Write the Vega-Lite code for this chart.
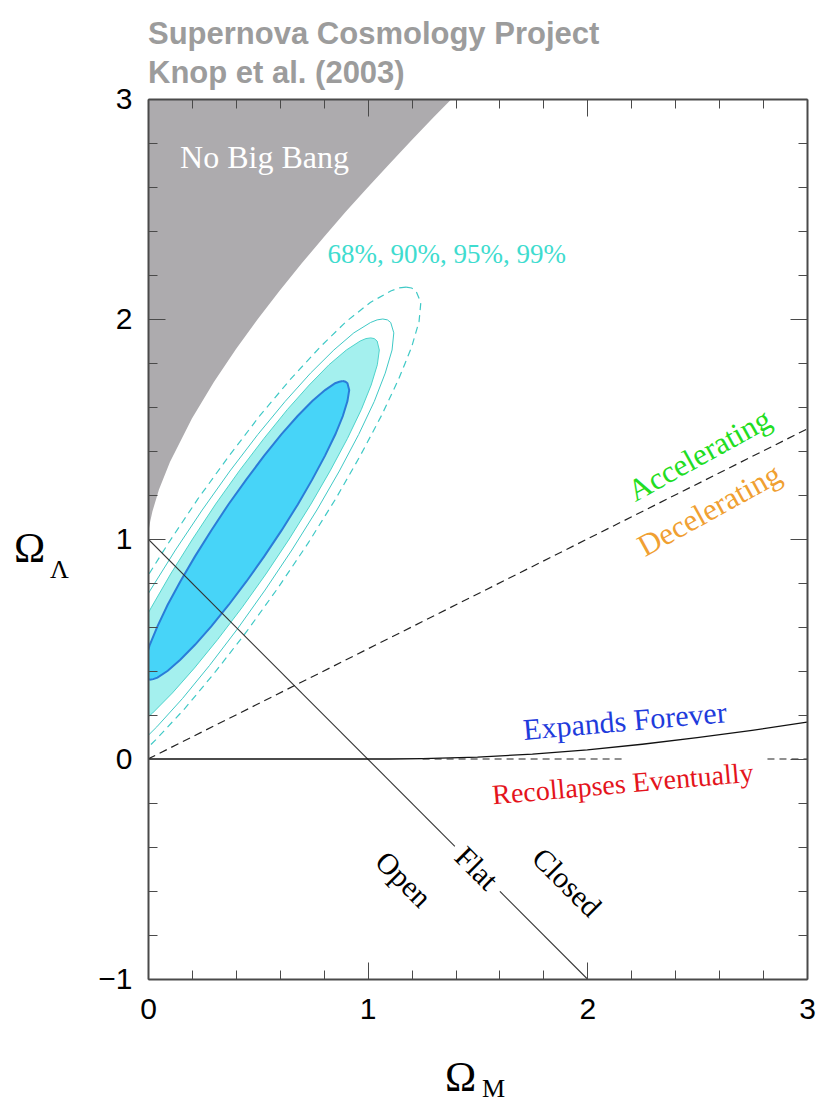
{
  "$schema": "https://vega.github.io/schema/vega-lite/v6.json",
  "width": 659,
  "height": 880,
  "autosize": {"type": "none"},
  "padding": {"left": 148, "top": 99, "right": 10, "bottom": 122},
  "background": "white",
  "title": {
    "text": ["Supernova Cosmology Project", "Knop et al. (2003)"],
    "anchor": "start",
    "frame": "group",
    "font": "Liberation Sans",
    "fontSize": 31,
    "fontWeight": "bold",
    "color": "#9c9c9c",
    "lineHeight": 39,
    "offset": -6
  },
  "config": {
    "view": {"stroke": null},
    "axis": {"grid": false, "labelFlush": false, "labelOverlap": false, "domain": false}
  },
  "resolve": {"axis": {"x": "independent", "y": "independent"}},
  "datasets": {
    "nobb": [
      {"om": 0, "ol": 1}, {"om": 0.001, "ol": 1.018}, {"om": 0.002, "ol": 1.028}, {"om": 0.005, "ol": 1.051},
      {"om": 0.01, "ol": 1.08}, {"om": 0.02, "ol": 1.125}, {"om": 0.05, "ol": 1.225}, {"om": 0.1, "ol": 1.35},
      {"om": 0.2, "ol": 1.548}, {"om": 0.3, "ol": 1.714}, {"om": 0.4, "ol": 1.862}, {"om": 0.5, "ol": 2.0},
      {"om": 0.6, "ol": 2.13}, {"om": 0.7, "ol": 2.253}, {"om": 0.8, "ol": 2.372}, {"om": 0.9, "ol": 2.487},
      {"om": 1.0, "ol": 2.598}, {"om": 1.1, "ol": 2.706}, {"om": 1.2, "ol": 2.813}, {"om": 1.3, "ol": 2.917},
      {"om": 1.382, "ol": 3.0}
    ],
    "contours": [
      {"c": "68", "k": 0, "y": 1.718, "xl": 0.887, "xr": 0.887},
      {"c": "68", "k": 1, "y": 1.715, "xl": 0.871, "xr": 0.899},
      {"c": "68", "k": 2, "y": 1.708, "xl": 0.852, "xr": 0.908},
      {"c": "68", "k": 3, "y": 1.677, "xl": 0.806, "xr": 0.916},
      {"c": "68", "k": 4, "y": 1.627, "xl": 0.748, "xr": 0.908},
      {"c": "68", "k": 5, "y": 1.559, "xl": 0.681, "xr": 0.887},
      {"c": "68", "k": 6, "y": 1.476, "xl": 0.607, "xr": 0.853},
      {"c": "68", "k": 7, "y": 1.379, "xl": 0.529, "xr": 0.806},
      {"c": "68", "k": 8, "y": 1.271, "xl": 0.448, "xr": 0.748},
      {"c": "68", "k": 9, "y": 1.157, "xl": 0.366, "xr": 0.682},
      {"c": "68", "k": 10, "y": 1.039, "xl": 0.288, "xr": 0.608},
      {"c": "68", "k": 11, "y": 0.921, "xl": 0.214, "xr": 0.529},
      {"c": "68", "k": 12, "y": 0.807, "xl": 0.147, "xr": 0.448},
      {"c": "68", "k": 13, "y": 0.700, "xl": 0.089, "xr": 0.367},
      {"c": "68", "k": 14, "y": 0.603, "xl": 0.043, "xr": 0.288},
      {"c": "68", "k": 15, "y": 0.519, "xl": 0.008, "xr": 0.214},
      {"c": "68", "k": 16, "y": 0.451, "xl": -0.013, "xr": 0.147},
      {"c": "68", "k": 17, "y": 0.401, "xl": -0.020, "xr": 0.090},
      {"c": "68", "k": 18, "y": 0.370, "xl": -0.013, "xr": 0.043},
      {"c": "68", "k": 19, "y": 0.363, "xl": -0.004, "xr": 0.024},
      {"c": "68", "k": 20, "y": 0.360, "xl": 0.008, "xr": 0.008},
      {"c": "90", "k": 0, "y": 1.914, "xl": 1.014, "xr": 1.014},
      {"c": "90", "k": 1, "y": 1.911, "xl": 0.992, "xr": 1.030},
      {"c": "90", "k": 2, "y": 1.900, "xl": 0.966, "xr": 1.043},
      {"c": "90", "k": 3, "y": 1.859, "xl": 0.903, "xr": 1.053},
      {"c": "90", "k": 4, "y": 1.792, "xl": 0.824, "xr": 1.044},
      {"c": "90", "k": 5, "y": 1.700, "xl": 0.734, "xr": 1.016},
      {"c": "90", "k": 6, "y": 1.588, "xl": 0.634, "xr": 0.971},
      {"c": "90", "k": 7, "y": 1.457, "xl": 0.528, "xr": 0.908},
      {"c": "90", "k": 8, "y": 1.313, "xl": 0.418, "xr": 0.831},
      {"c": "90", "k": 9, "y": 1.159, "xl": 0.308, "xr": 0.742},
      {"c": "90", "k": 10, "y": 1.000, "xl": 0.203, "xr": 0.643},
      {"c": "90", "k": 11, "y": 0.841, "xl": 0.103, "xr": 0.537},
      {"c": "90", "k": 12, "y": 0.687, "xl": 0.014, "xr": 0.427},
      {"c": "90", "k": 13, "y": 0.543, "xl": -0.064, "xr": 0.317},
      {"c": "90", "k": 14, "y": 0.413, "xl": -0.126, "xr": 0.211},
      {"c": "90", "k": 15, "y": 0.300, "xl": -0.172, "xr": 0.111},
      {"c": "90", "k": 16, "y": 0.209, "xl": -0.199, "xr": 0.021},
      {"c": "90", "k": 17, "y": 0.141, "xl": -0.208, "xr": -0.058},
      {"c": "90", "k": 18, "y": 0.100, "xl": -0.198, "xr": -0.121},
      {"c": "90", "k": 19, "y": 0.090, "xl": -0.186, "xr": -0.147},
      {"c": "90", "k": 20, "y": 0.086, "xl": -0.169, "xr": -0.169},
      {"c": "95", "k": 0, "y": 2.000, "xl": 1.069, "xr": 1.069},
      {"c": "95", "k": 1, "y": 1.996, "xl": 1.043, "xr": 1.090},
      {"c": "95", "k": 2, "y": 1.984, "xl": 1.013, "xr": 1.105},
      {"c": "95", "k": 3, "y": 1.937, "xl": 0.937, "xr": 1.119},
      {"c": "95", "k": 4, "y": 1.859, "xl": 0.846, "xr": 1.111},
      {"c": "95", "k": 5, "y": 1.754, "xl": 0.740, "xr": 1.080},
      {"c": "95", "k": 6, "y": 1.625, "xl": 0.624, "xr": 1.030},
      {"c": "95", "k": 7, "y": 1.475, "xl": 0.500, "xr": 0.959},
      {"c": "95", "k": 8, "y": 1.309, "xl": 0.373, "xr": 0.871},
      {"c": "95", "k": 9, "y": 1.132, "xl": 0.247, "xr": 0.769},
      {"c": "95", "k": 10, "y": 0.950, "xl": 0.125, "xr": 0.655},
      {"c": "95", "k": 11, "y": 0.768, "xl": 0.011, "xr": 0.533},
      {"c": "95", "k": 12, "y": 0.591, "xl": -0.091, "xr": 0.407},
      {"c": "95", "k": 13, "y": 0.425, "xl": -0.179, "xr": 0.280},
      {"c": "95", "k": 14, "y": 0.275, "xl": -0.250, "xr": 0.157},
      {"c": "95", "k": 15, "y": 0.146, "xl": -0.300, "xr": 0.040},
      {"c": "95", "k": 16, "y": 0.041, "xl": -0.331, "xr": -0.066},
      {"c": "95", "k": 17, "y": -0.037, "xl": -0.339, "xr": -0.157},
      {"c": "95", "k": 18, "y": -0.084, "xl": -0.325, "xr": -0.233},
      {"c": "95", "k": 19, "y": -0.096, "xl": -0.310, "xr": -0.263},
      {"c": "95", "k": 20, "y": -0.100, "xl": -0.289, "xr": -0.289},
      {"c": "99", "k": 0, "y": 2.145, "xl": 1.175, "xr": 1.175},
      {"c": "99", "k": 1, "y": 2.141, "xl": 1.143, "xr": 1.200},
      {"c": "99", "k": 2, "y": 2.127, "xl": 1.105, "xr": 1.220},
      {"c": "99", "k": 3, "y": 2.075, "xl": 1.012, "xr": 1.242},
      {"c": "99", "k": 4, "y": 1.989, "xl": 0.903, "xr": 1.234},
      {"c": "99", "k": 5, "y": 1.872, "xl": 0.783, "xr": 1.200},
      {"c": "99", "k": 6, "y": 1.729, "xl": 0.651, "xr": 1.142},
      {"c": "99", "k": 7, "y": 1.563, "xl": 0.511, "xr": 1.064},
      {"c": "99", "k": 8, "y": 1.378, "xl": 0.369, "xr": 0.966},
      {"c": "99", "k": 9, "y": 1.182, "xl": 0.227, "xr": 0.854},
      {"c": "99", "k": 10, "y": 0.980, "xl": 0.092, "xr": 0.728},
      {"c": "99", "k": 11, "y": 0.778, "xl": -0.035, "xr": 0.592},
      {"c": "99", "k": 12, "y": 0.582, "xl": -0.147, "xr": 0.451},
      {"c": "99", "k": 13, "y": 0.398, "xl": -0.243, "xr": 0.308},
      {"c": "99", "k": 14, "y": 0.231, "xl": -0.319, "xr": 0.169},
      {"c": "99", "k": 15, "y": 0.088, "xl": -0.372, "xr": 0.036},
      {"c": "99", "k": 16, "y": -0.029, "xl": -0.402, "xr": -0.084},
      {"c": "99", "k": 17, "y": -0.115, "xl": -0.408, "xr": -0.190},
      {"c": "99", "k": 18, "y": -0.167, "xl": -0.388, "xr": -0.278},
      {"c": "99", "k": 19, "y": -0.181, "xl": -0.369, "xr": -0.314},
      {"c": "99", "k": 20, "y": -0.185, "xl": -0.344, "xr": -0.344}
    ],
    "flat": [
      {"s": "a", "x": 0, "y": 1}, {"s": "a", "x": 1.397, "y": -0.397},
      {"s": "b", "x": 1.602, "y": -0.602}, {"s": "b", "x": 2, "y": -1}
    ],
    "accel": [{"x": 0, "y": 0}, {"x": 3, "y": 1.5}],
    "expand": [
      {"x": 0, "y": 0}, {"x": 1, "y": 0}, {"x": 1.1, "y": 0.0001}, {"x": 1.25, "y": 0.0015},
      {"x": 1.5, "y": 0.0085}, {"x": 1.75, "y": 0.0224}, {"x": 2, "y": 0.0419}, {"x": 2.25, "y": 0.0671},
      {"x": 2.5, "y": 0.0967}, {"x": 2.75, "y": 0.1301}, {"x": 3, "y": 0.1675}
    ],
    "recoll": [
      {"s": "a", "x": 1.25, "y": 0}, {"s": "a", "x": 2.17, "y": 0},
      {"s": "b", "x": 2.82, "y": 0}, {"s": "b", "x": 3, "y": 0}
    ]
  },
  "layer": [
    {
      "data": {"name": "nobb"},
      "mark": {"type": "area", "color": "#adabae", "clip": true},
      "encoding": {
        "x": {"field": "om", "type": "quantitative", "scale": {"domain": [0, 3], "nice": false, "zero": false},
          "axis": {"orient": "bottom", "values": [0, 1, 2, 3], "ticks": false, "domain": false, "labelFont": "Liberation Sans", "labelFontSize": 30, "labelColor": "black", "labelPadding": 15,
            "title": "Ω", "titleFont": "Liberation Serif", "titleFontSize": 42, "titleFontWeight": "normal", "titleColor": "black", "titleX": 312, "titleY": 111, "titleAlign": "center", "titleBaseline": "alphabetic"}},
        "y": {"field": "ol", "type": "quantitative", "scale": {"domain": [-1, 3], "nice": false, "zero": false},
          "axis": {"orient": "left", "values": [-1, 0, 1, 2, 3], "ticks": false, "domain": false, "labelFont": "Liberation Sans", "labelFontSize": 30, "labelColor": "black", "labelPadding": 16,
            "title": "Ω", "titleFont": "Liberation Serif", "titleFontSize": 42, "titleFontWeight": "normal", "titleColor": "black", "titleAngle": 0, "titleX": -119, "titleY": 462, "titleAlign": "center", "titleBaseline": "alphabetic"}},
        "y2": {"datum": 3}
      }
    },
    {
      "data": {"name": "contours"},
      "transform": [{"filter": {"field": "c", "equal": "90"}}],
      "mark": {"type": "area", "orient": "horizontal", "color": "#a4f0ee", "clip": true},
      "encoding": {
        "y": {"field": "y", "type": "quantitative", "scale": {"domain": [-1, 3], "nice": false, "zero": false},
          "axis": {"orient": "left", "values": [-1, 0, 1, 2, 3], "labels": false, "ticks": true, "tickSize": -17, "tickColor": "#4a4a4a", "tickWidth": 1, "domain": true, "domainColor": "#4a4a4a", "domainWidth": 2, "zindex": 1,
            "title": "Λ", "titleFont": "Liberation Serif", "titleFontSize": 26, "titleFontWeight": "normal", "titleColor": "black", "titleAngle": 0, "titleX": -89, "titleY": 478, "titleAlign": "center", "titleBaseline": "alphabetic"}},
        "x": {"field": "xl", "type": "quantitative", "scale": {"domain": [0, 3], "nice": false, "zero": false},
          "axis": {"orient": "bottom", "values": [0, 1, 2, 3], "labels": false, "ticks": true, "tickSize": -17, "tickColor": "#4a4a4a", "tickWidth": 1, "domain": true, "domainColor": "#4a4a4a", "domainWidth": 2, "zindex": 1,
            "title": "M", "titleFont": "Liberation Serif", "titleFontSize": 26, "titleFontWeight": "normal", "titleColor": "black", "titleX": 345, "titleY": 117, "titleAlign": "center", "titleBaseline": "alphabetic"}},
        "x2": {"field": "xr"}
      }
    },
    {
      "data": {"name": "contours"},
      "transform": [{"filter": {"field": "c", "equal": "68"}}],
      "mark": {"type": "area", "orient": "horizontal", "color": "#47d4f8", "clip": true},
      "encoding": {
        "y": {"field": "y", "type": "quantitative", "scale": {"domain": [-1, 3], "nice": false, "zero": false},
          "axis": {"orient": "left", "values": [-0.8, -0.6, -0.4, -0.2, 0.2, 0.4, 0.6, 0.8, 1.2, 1.4, 1.6, 1.8, 2.2, 2.4, 2.6, 2.8], "labels": false, "ticks": true, "tickSize": -9, "tickColor": "#4a4a4a", "tickWidth": 1, "domain": false, "zindex": 1, "title": null}},
        "x": {"field": "xl", "type": "quantitative", "scale": {"domain": [0, 3], "nice": false, "zero": false},
          "axis": {"orient": "bottom", "values": [0.2, 0.4, 0.6, 0.8, 1.2, 1.4, 1.6, 1.8, 2.2, 2.4, 2.6, 2.8], "labels": false, "ticks": true, "tickSize": -9, "tickColor": "#4a4a4a", "tickWidth": 1, "domain": false, "zindex": 1, "title": null}},
        "x2": {"field": "xr"}
      }
    },
    {
      "data": {"name": "contours"},
      "transform": [{"filter": {"field": "c", "equal": "90"}}, {"fold": ["xl", "xr"], "as": ["side", "xv"]}],
      "mark": {"type": "line", "stroke": "#4fd3cb", "strokeWidth": 1, "clip": true},
      "encoding": {
        "x": {"field": "xv", "type": "quantitative", "scale": {"domain": [0, 3], "nice": false, "zero": false},
          "axis": {"orient": "top", "values": [0, 1, 2, 3], "labels": false, "ticks": true, "tickSize": -17, "tickColor": "#4a4a4a", "tickWidth": 1, "domain": true, "domainColor": "#4a4a4a", "domainWidth": 2, "zindex": 1, "title": null}},
        "y": {"field": "y", "type": "quantitative", "scale": {"domain": [-1, 3], "nice": false, "zero": false},
          "axis": {"orient": "right", "values": [-1, 0, 1, 2, 3], "labels": false, "ticks": true, "tickSize": -17, "tickColor": "#4a4a4a", "tickWidth": 1, "domain": true, "domainColor": "#4a4a4a", "domainWidth": 2, "zindex": 1, "title": null}},
        "detail": {"field": "side"},
        "order": {"field": "k", "type": "quantitative"}
      }
    },
    {
      "data": {"name": "contours"},
      "transform": [{"filter": {"field": "c", "equal": "95"}}, {"fold": ["xl", "xr"], "as": ["side", "xv"]}],
      "mark": {"type": "line", "stroke": "#3fc9c6", "strokeWidth": 1, "clip": true},
      "encoding": {
        "x": {"field": "xv", "type": "quantitative", "scale": {"domain": [0, 3], "nice": false, "zero": false},
          "axis": {"orient": "top", "values": [0.2, 0.4, 0.6, 0.8, 1.2, 1.4, 1.6, 1.8, 2.2, 2.4, 2.6, 2.8], "labels": false, "ticks": true, "tickSize": -9, "tickColor": "#4a4a4a", "tickWidth": 1, "domain": false, "zindex": 1, "title": null}},
        "y": {"field": "y", "type": "quantitative", "scale": {"domain": [-1, 3], "nice": false, "zero": false},
          "axis": {"orient": "right", "values": [-0.8, -0.6, -0.4, -0.2, 0.2, 0.4, 0.6, 0.8, 1.2, 1.4, 1.6, 1.8, 2.2, 2.4, 2.6, 2.8], "labels": false, "ticks": true, "tickSize": -9, "tickColor": "#4a4a4a", "tickWidth": 1, "domain": false, "zindex": 1, "title": null}},
        "detail": {"field": "side"},
        "order": {"field": "k", "type": "quantitative"}
      }
    },
    {
      "data": {"name": "contours"},
      "transform": [{"filter": {"field": "c", "equal": "99"}}, {"fold": ["xl", "xr"], "as": ["side", "xv"]}],
      "mark": {"type": "line", "stroke": "#3fc9c6", "strokeWidth": 1.2, "strokeDash": [7, 5], "clip": true},
      "encoding": {
        "x": {"field": "xv", "type": "quantitative", "scale": {"domain": [0, 3], "nice": false, "zero": false}, "axis": null},
        "y": {"field": "y", "type": "quantitative", "scale": {"domain": [-1, 3], "nice": false, "zero": false}, "axis": null},
        "detail": {"field": "side"},
        "order": {"field": "k", "type": "quantitative"}
      }
    },
    {
      "data": {"name": "contours"},
      "transform": [{"filter": {"field": "c", "equal": "68"}}, {"fold": ["xl", "xr"], "as": ["side", "xv"]}],
      "mark": {"type": "line", "stroke": "#2a7cd8", "strokeWidth": 2, "clip": true},
      "encoding": {
        "x": {"field": "xv", "type": "quantitative", "scale": {"domain": [0, 3], "nice": false, "zero": false}, "axis": null},
        "y": {"field": "y", "type": "quantitative", "scale": {"domain": [-1, 3], "nice": false, "zero": false}, "axis": null},
        "detail": {"field": "side"},
        "order": {"field": "k", "type": "quantitative"}
      }
    },
    {
      "data": {"name": "flat"},
      "mark": {"type": "line", "stroke": "#333333", "strokeWidth": 1.1, "clip": true},
      "encoding": {
        "x": {"field": "x", "type": "quantitative", "scale": {"domain": [0, 3], "nice": false, "zero": false}, "axis": null},
        "y": {"field": "y", "type": "quantitative", "scale": {"domain": [-1, 3], "nice": false, "zero": false}, "axis": null},
        "detail": {"field": "s"}
      }
    },
    {
      "data": {"name": "accel"},
      "mark": {"type": "line", "stroke": "#222222", "strokeWidth": 1.2, "strokeDash": [8, 5], "clip": true},
      "encoding": {
        "x": {"field": "x", "type": "quantitative", "scale": {"domain": [0, 3], "nice": false, "zero": false}, "axis": null},
        "y": {"field": "y", "type": "quantitative", "scale": {"domain": [-1, 3], "nice": false, "zero": false}, "axis": null}
      }
    },
    {
      "data": {"name": "expand"},
      "mark": {"type": "line", "stroke": "#111111", "strokeWidth": 1.3, "clip": true},
      "encoding": {
        "x": {"field": "x", "type": "quantitative", "scale": {"domain": [0, 3], "nice": false, "zero": false}, "axis": null},
        "y": {"field": "y", "type": "quantitative", "scale": {"domain": [-1, 3], "nice": false, "zero": false}, "axis": null}
      }
    },
    {
      "data": {"name": "recoll"},
      "mark": {"type": "line", "stroke": "#222222", "strokeWidth": 1.2, "strokeDash": [7, 5], "clip": true},
      "encoding": {
        "x": {"field": "x", "type": "quantitative", "scale": {"domain": [0, 3], "nice": false, "zero": false}, "axis": null},
        "y": {"field": "y", "type": "quantitative", "scale": {"domain": [-1, 3], "nice": false, "zero": false}, "axis": null},
        "detail": {"field": "s"}
      }
    },
    {
      "data": {"values": [{"x": 0.146, "y": 2.686, "t": "No Big Bang"}]},
      "mark": {"type": "text", "font": "Liberation Serif", "fontSize": 32, "color": "white", "align": "left", "baseline": "alphabetic"},
      "encoding": {
        "x": {"field": "x", "type": "quantitative", "scale": {"domain": [0, 3], "nice": false, "zero": false}, "axis": null},
        "y": {"field": "y", "type": "quantitative", "scale": {"domain": [-1, 3], "nice": false, "zero": false}, "axis": null},
        "text": {"field": "t"}
      }
    },
    {
      "data": {"values": [{"x": 0.817, "y": 2.255, "t": "68%, 90%, 95%, 99%"}]},
      "mark": {"type": "text", "font": "Liberation Serif", "fontSize": 27, "color": "#3fdccf", "align": "left", "baseline": "alphabetic"},
      "encoding": {
        "x": {"field": "x", "type": "quantitative", "scale": {"domain": [0, 3], "nice": false, "zero": false}, "axis": null},
        "y": {"field": "y", "type": "quantitative", "scale": {"domain": [-1, 3], "nice": false, "zero": false}, "axis": null},
        "text": {"field": "t"}
      }
    },
    {
      "data": {"values": [{"x": 2.513, "y": 1.377, "t": "Accelerating"}]},
      "mark": {"type": "text", "font": "Liberation Serif", "fontSize": 31, "color": "#22dd22", "align": "center", "baseline": "middle", "angle": -29},
      "encoding": {
        "x": {"field": "x", "type": "quantitative", "scale": {"domain": [0, 3], "nice": false, "zero": false}, "axis": null},
        "y": {"field": "y", "type": "quantitative", "scale": {"domain": [-1, 3], "nice": false, "zero": false}, "axis": null},
        "text": {"field": "t"}
      }
    },
    {
      "data": {"values": [{"x": 2.558, "y": 1.127, "t": "Decelerating"}]},
      "mark": {"type": "text", "font": "Liberation Serif", "fontSize": 31, "color": "#f0a032", "align": "center", "baseline": "middle", "angle": -29},
      "encoding": {
        "x": {"field": "x", "type": "quantitative", "scale": {"domain": [0, 3], "nice": false, "zero": false}, "axis": null},
        "y": {"field": "y", "type": "quantitative", "scale": {"domain": [-1, 3], "nice": false, "zero": false}, "axis": null},
        "text": {"field": "t"}
      }
    },
    {
      "data": {"values": [{"x": 2.171, "y": 0.168, "t": "Expands Forever"}]},
      "mark": {"type": "text", "font": "Liberation Serif", "fontSize": 30, "color": "#1f3cdc", "align": "center", "baseline": "middle", "angle": -5},
      "encoding": {
        "x": {"field": "x", "type": "quantitative", "scale": {"domain": [0, 3], "nice": false, "zero": false}, "axis": null},
        "y": {"field": "y", "type": "quantitative", "scale": {"domain": [-1, 3], "nice": false, "zero": false}, "axis": null},
        "text": {"field": "t"}
      }
    },
    {
      "data": {"values": [{"x": 2.162, "y": -0.118, "t": "Recollapses Eventually"}]},
      "mark": {"type": "text", "font": "Liberation Serif", "fontSize": 28, "color": "#e4141c", "align": "center", "baseline": "middle", "angle": -5},
      "encoding": {
        "x": {"field": "x", "type": "quantitative", "scale": {"domain": [0, 3], "nice": false, "zero": false}, "axis": null},
        "y": {"field": "y", "type": "quantitative", "scale": {"domain": [-1, 3], "nice": false, "zero": false}, "axis": null},
        "text": {"field": "t"}
      }
    },
    {
      "data": {"values": [{"x": 1.16, "y": -0.55, "t": "Open"}, {"x": 1.493, "y": -0.5, "t": "Flat"}, {"x": 1.903, "y": -0.564, "t": "Closed"}]},
      "mark": {"type": "text", "font": "Liberation Serif", "fontSize": 30, "color": "black", "align": "center", "baseline": "middle", "angle": 45},
      "encoding": {
        "x": {"field": "x", "type": "quantitative", "scale": {"domain": [0, 3], "nice": false, "zero": false}, "axis": null},
        "y": {"field": "y", "type": "quantitative", "scale": {"domain": [-1, 3], "nice": false, "zero": false}, "axis": null},
        "text": {"field": "t"}
      }
    }
  ]
}
